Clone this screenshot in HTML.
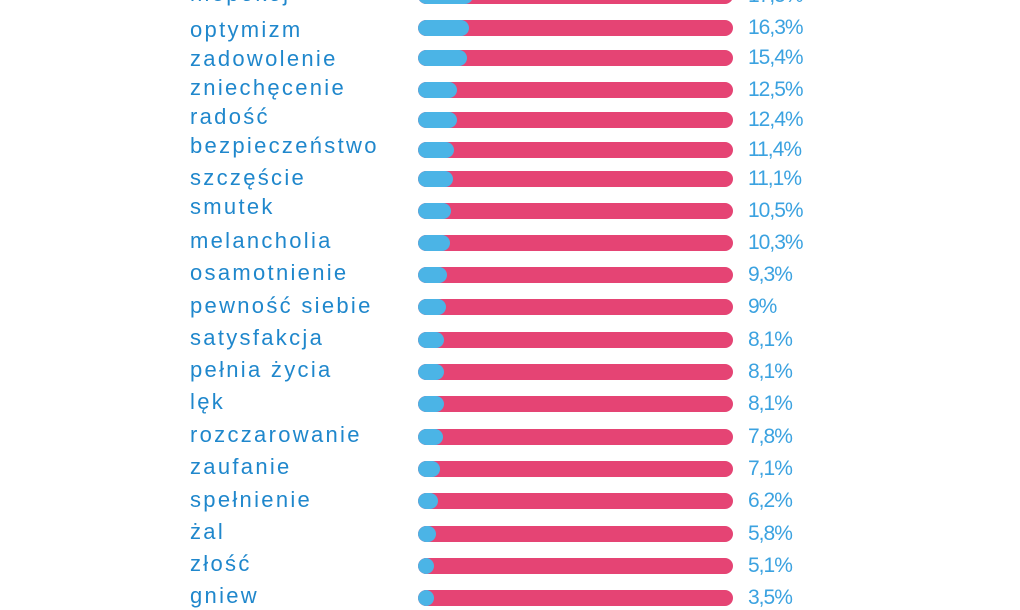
<!DOCTYPE html>
<html><head><meta charset="utf-8"><style>
body{margin:0;width:1020px;height:600px;background:#fff;overflow:hidden;position:relative;font-family:"Liberation Sans",sans-serif}
.l,.v{position:absolute;line-height:24px;height:24px;white-space:nowrap}
.l{left:190px;font-size:22px;color:#1f87cc;letter-spacing:2.3px}
.v{left:748px;font-size:21px;color:#3ba2e0;letter-spacing:-1px}
.b{position:absolute;left:418px;width:315px;height:16px;border-radius:8px;background:#e54474;overflow:hidden}
.b i{position:absolute;left:0;top:0;bottom:0;background:#4bb4e6;border-radius:8px}
</style></head><body>
<script>
var d=[["niepokój",17.5,-4,-6],["optymizm",16.3,28,30],["zadowolenie",15.4,58,59],["zniechęcenie",12.5,90,88],["radość",12.4,120,117],["bezpieczeństwo",11.4,150,146],["szczęście",11.1,179,178],["smutek",10.5,211,207],["melancholia",10.3,243,241],["osamotnienie",9.3,275,273],["pewność siebie",9,307,306],["satysfakcja",8.1,340,338],["pełnia życia",8.1,372,370],["lęk",8.1,404,402],["rozczarowanie",7.8,437,435],["zaufanie",7.1,469,467],["spełnienie",6.2,501,500],["żal",5.8,534,532],["złość",5.1,566,564],["gniew",3.5,598,596]];
var h="";d.forEach(function(r){var w=Math.max(16,r[1]*3.15);
h+='<div class="l" style="top:'+(r[3]-12)+'px">'+r[0]+'</div>';
h+='<div class="b" style="top:'+(r[2]-8)+'px"><i style="width:'+w+'px"></i></div>';
h+='<div class="v" style="top:'+(r[2]-12)+'px">'+String(r[1]).replace(".",",")+'%</div>';});
document.write(h);
</script>
</body></html>
